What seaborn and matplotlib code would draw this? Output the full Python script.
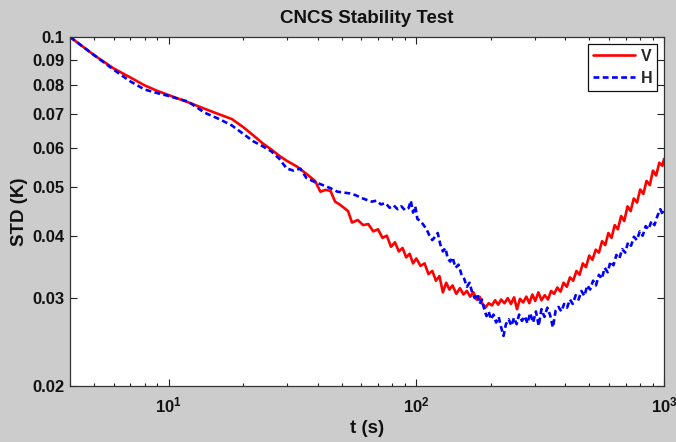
import numpy as np
import pandas as pd
import seaborn as sns
import matplotlib.pyplot as plt
from matplotlib.ticker import FixedLocator, FuncFormatter, NullFormatter

# V channel (red, solid)
t_v = [4, 5, 6, 7, 8, 9, 10, 12, 14, 16, 18, 20, 22, 24, 26, 28, 30, 33, 36, 39,
       41, 43, 45, 47, 49, 51, 53, 55, 58, 61, 64, 67, 70, 73, 76, 79, 82, 85, 88, 91,
       94, 97, 100, 104, 108, 112, 116, 120, 124, 128, 132, 136, 140, 145, 150, 155, 160, 165, 170, 175,
       180, 185, 190, 196, 202, 208, 214, 220, 227, 234, 241, 248, 255, 262, 270, 278, 286, 294, 302, 311,
       320, 330, 340, 350, 360, 371, 382, 393, 405, 417, 430, 443, 456, 470, 484, 499, 514, 530, 546, 562,
       579, 596, 614, 632, 651, 671, 691, 712, 733, 755, 778, 801, 825, 850, 876, 902, 929, 957, 985, 1000]
std_v = [0.100, 0.092, 0.0865, 0.083, 0.080, 0.078, 0.0765, 0.074, 0.0718, 0.070, 0.0685, 0.066, 0.0635, 0.0612, 0.0595, 0.0578, 0.0565, 0.055, 0.0532, 0.0515,
         0.0490, 0.0494, 0.0492, 0.0468, 0.0462, 0.0455, 0.0448, 0.0425, 0.0430, 0.0420, 0.0422, 0.0408, 0.0412, 0.0396, 0.0400, 0.0380, 0.0388, 0.0372, 0.0378, 0.0362,
         0.0368, 0.0352, 0.0360, 0.0348, 0.0352, 0.0335, 0.0340, 0.0325, 0.0332, 0.0308, 0.0322, 0.0312, 0.0318, 0.0306, 0.0314, 0.0305, 0.0310, 0.0302, 0.0308, 0.0298,
         0.0302, 0.0292, 0.0287, 0.0293, 0.0290, 0.0297, 0.0291, 0.0298, 0.0293, 0.0300, 0.0292, 0.0301, 0.0285, 0.0299, 0.0294, 0.0302, 0.0293, 0.0305, 0.0296, 0.0308,
         0.0297, 0.0304, 0.0298, 0.0310, 0.0306, 0.0315, 0.0309, 0.0322, 0.0316, 0.0330, 0.0325, 0.0340, 0.0334, 0.0352, 0.0346, 0.0365, 0.0358, 0.0375, 0.0370, 0.0390,
         0.0383, 0.0405, 0.0396, 0.0420, 0.0412, 0.0438, 0.0428, 0.0458, 0.0448, 0.0475, 0.0466, 0.0495, 0.0485, 0.0515, 0.0505, 0.0540, 0.0528, 0.0560, 0.0552, 0.0570]

# H channel (blue, dashed)
t_h = [4, 5, 6, 7, 8, 9, 10, 12, 14, 16, 18, 20, 22, 24, 26, 28, 30, 32, 34, 36,
       39, 42, 45, 48, 51, 54, 57, 60, 63, 66, 69, 72, 75, 78, 81, 84, 87, 90, 93, 95,
       97, 99, 101, 104, 107, 110, 113, 116, 119, 122, 125, 128, 131, 134, 137, 140, 144, 148, 152, 156,
       160, 164, 168, 172, 176, 180, 184, 188, 192, 196, 200, 205, 210, 215, 220, 225, 230, 236, 242, 248,
       254, 260, 267, 274, 281, 288, 296, 304, 312, 320, 329, 338, 347, 356, 365, 375, 385, 395, 406, 417,
       428, 440, 452, 464, 477, 490, 503, 517, 531, 546, 561, 576, 592, 608, 625, 642, 660, 678, 697, 716,
       736, 756, 777, 798, 820, 843, 866, 890, 915, 940, 966, 990, 1000]
std_h = [0.100, 0.092, 0.086, 0.0815, 0.0785, 0.0772, 0.0762, 0.0742, 0.0705, 0.0685, 0.0665, 0.0640, 0.0618, 0.0604, 0.0590, 0.0570, 0.0545, 0.0540, 0.0545, 0.0522,
         0.0512, 0.0505, 0.0498, 0.0490, 0.0488, 0.0486, 0.0482, 0.0476, 0.0472, 0.0468, 0.0470, 0.0462, 0.0465, 0.0455, 0.0460, 0.0452, 0.0458, 0.0450, 0.0454, 0.0470,
         0.0445, 0.0458, 0.0432, 0.0428, 0.0420, 0.0412, 0.0400, 0.0392, 0.0398, 0.0405, 0.0384, 0.0372, 0.0378, 0.0360, 0.0355, 0.0362, 0.0345, 0.0350, 0.0335, 0.0328,
         0.0316, 0.0322, 0.0308, 0.0300, 0.0306, 0.0292, 0.0298, 0.0285, 0.0276, 0.0282, 0.0272, 0.0278, 0.0268, 0.0275, 0.0262, 0.0252, 0.0266, 0.0272, 0.0264, 0.0274,
         0.0266, 0.0278, 0.0270, 0.0276, 0.0267, 0.0280, 0.0268, 0.0282, 0.0264, 0.0285, 0.0275, 0.0287, 0.0277, 0.0262, 0.0283, 0.0288, 0.0282, 0.0292, 0.0287, 0.0298,
         0.0292, 0.0304, 0.0298, 0.0310, 0.0303, 0.0318, 0.0312, 0.0325, 0.0318, 0.0334, 0.0328, 0.0345, 0.0338, 0.0355, 0.0349, 0.0366, 0.0360, 0.0376, 0.0370, 0.0388,
         0.0382, 0.0398, 0.0392, 0.0408, 0.0400, 0.0418, 0.0412, 0.0428, 0.0420, 0.0438, 0.0452, 0.0440, 0.0448]

y_ticks = [0.02, 0.03, 0.04, 0.05, 0.06, 0.07, 0.08, 0.09, 0.1]
y_ticklabels = ['0.02', '0.03', '0.04', '0.05', '0.06', '0.07', '0.08', '0.09', '0.1']

sns.set_theme(style="ticks")
plt.rcParams['font.family'] = ['Liberation Sans', 'DejaVu Sans']
plt.rcParams['font.weight'] = 'bold'
plt.rcParams['mathtext.fontset'] = 'custom'
plt.rcParams['mathtext.bf'] = 'Liberation Sans:bold'
plt.rcParams['mathtext.rm'] = 'Liberation Sans:bold'

fig = plt.figure(figsize=(6.76, 4.42), dpi=100, facecolor='#cccccc')
ax = fig.add_axes([0.1036, 0.1267, 0.8787, 0.7896])
ax.set_facecolor('white')

sns.lineplot(x=t_v, y=std_v, ax=ax, color='#ff0000', lw=1.9, label='V')
sns.lineplot(x=t_h, y=std_h, ax=ax, color='#0000ff', lw=1.9, label='H', linestyle='--')
ax.lines[1].set_dashes((2.2, 1.3))

ax.set_xscale('log')
ax.set_yscale('log')
ax.set_xlim(4, 1000)
ax.set_ylim(0.02, 0.1)

ax.xaxis.set_major_locator(FixedLocator([10, 100, 1000]))
ax.xaxis.set_major_formatter(FuncFormatter(lambda v, p: r'$\mathbf{10^{%d}}$' % round(np.log10(v))))
minors = [m * d for d in (1, 10, 100) for m in range(2, 10) if 4 <= m * d <= 1000]
ax.xaxis.set_minor_locator(FixedLocator(minors))
ax.xaxis.set_minor_formatter(NullFormatter())

ax.yaxis.set_major_locator(FixedLocator(y_ticks))
ax.set_yticklabels(y_ticklabels)
ax.yaxis.set_minor_locator(FixedLocator([]))
ax.yaxis.set_minor_formatter(NullFormatter())

ax.tick_params(which='both', direction='in', top=True, right=True, colors='#222222',
               labelcolor='#111111', labelsize=12)
ax.tick_params(which='major', length=5, width=0.8, pad=4)
ax.tick_params(which='minor', length=2.5, width=0.8)
ax.tick_params(axis='x', which='major', pad=7)
for s in ax.spines.values():
    s.set_color('#333333')
    s.set_linewidth(0.9)

ax.set_title('CNCS Stability Test', fontsize=13.5, fontweight='bold', color='#111111', pad=10)
ax.set_xlabel('t (s)', fontsize=13.5, fontweight='bold', color='#111111', labelpad=3)
ax.set_ylabel('STD (K)', fontsize=13.5, fontweight='bold', color='#111111', labelpad=3)

leg = ax.legend(loc='upper right', fancybox=False, framealpha=1, edgecolor='#111111',
                fontsize=11.5, handlelength=2.6, handletextpad=0.35, borderaxespad=0.42,
                borderpad=0.32, labelspacing=0.42)
leg.get_frame().set_linewidth(0.9)
for txt in leg.get_texts():
    txt.set_fontweight('bold')

fig.savefig('out.png', dpi=100, facecolor=fig.get_facecolor())
